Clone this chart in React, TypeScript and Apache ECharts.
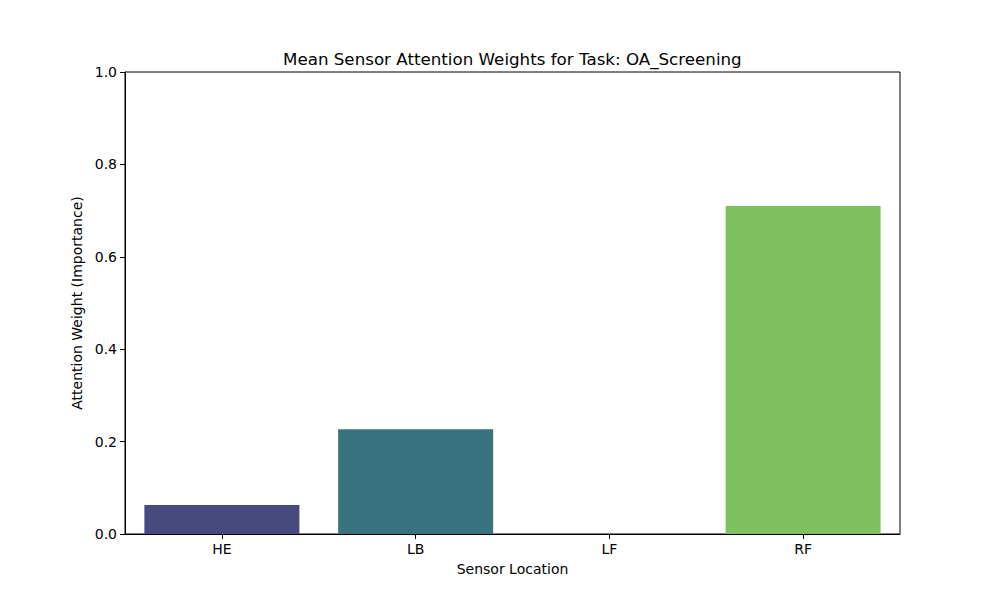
import React, { useEffect, useRef } from "react";
import * as echarts from "echarts";

const categories = ["HE", "LB", "LF", "RF"];
const values = [0.063, 0.227, 0.0, 0.71];
const colors = ["#48497f", "#38737f", "#2f9a7f", "#7fc15f"];
const yTicks = [0, 0.2, 0.4, 0.6, 0.8, 1.0];

export default function App() {
  const ref = useRef<HTMLDivElement>(null);
  useEffect(() => {
    document.body.style.margin = "0";
    const chart = echarts.init(ref.current!, null, { renderer: "svg" });
    const font = "DejaVu Sans";
    chart.setOption({
      animation: false,
      backgroundColor: "#ffffff",
      title: {
        text: "Mean Sensor Attention Weights for Task: OA_Screening",
        left: 283,
        top: 50,
        padding: 0,
        textStyle: { fontFamily: font, fontSize: 16.7, fontWeight: "normal", color: "#000" },
      },
      grid: {
        left: 125,
        right: 100,
        top: 72,
        bottom: 66,
        show: true,
        borderColor: "#000",
        borderWidth: 1,
        backgroundColor: "transparent",
      },
      xAxis: {
        type: "category",
        data: categories,
        name: "Sensor Location",
        nameLocation: "middle",
        nameGap: 28,
        nameTextStyle: { fontFamily: font, fontSize: 14, color: "#000" },
        axisLine: { show: true, lineStyle: { color: "#000", width: 1 } },
        axisTick: { show: true, alignWithLabel: true, length: 5, lineStyle: { color: "#000" } },
        axisLabel: { fontFamily: font, fontSize: 14, color: "#000", margin: 8 },
        splitLine: { show: false },
      },
      yAxis: {
        type: "value",
        min: 0,
        max: 1,
        interval: 0.2,
        name: "Attention Weight (Importance)",
        nameLocation: "middle",
        nameGap: 36,
        nameTextStyle: { fontFamily: font, fontSize: 14, color: "#000" },
        axisLine: { show: true, lineStyle: { color: "#000", width: 1 } },
        axisTick: { show: true, length: 5, lineStyle: { color: "#000" } },
        axisLabel: {
          fontFamily: font,
          fontSize: 14,
          color: "#000",
          margin: 8,
          formatter: (v: number) => {
            const t = yTicks.find((x) => Math.abs(x - v) < 1e-9);
            return (t ?? v).toFixed(1);
          },
        },
        splitLine: { show: false },
      },
      series: [
        {
          type: "bar",
          barWidth: "80%",
          data: values.map((v, i) => ({ value: v, itemStyle: { color: colors[i] } })),
        },
      ],
    });
    return () => chart.dispose();
  }, []);
  return <div ref={ref} style={{ width: 1000, height: 600 }} />;
}
